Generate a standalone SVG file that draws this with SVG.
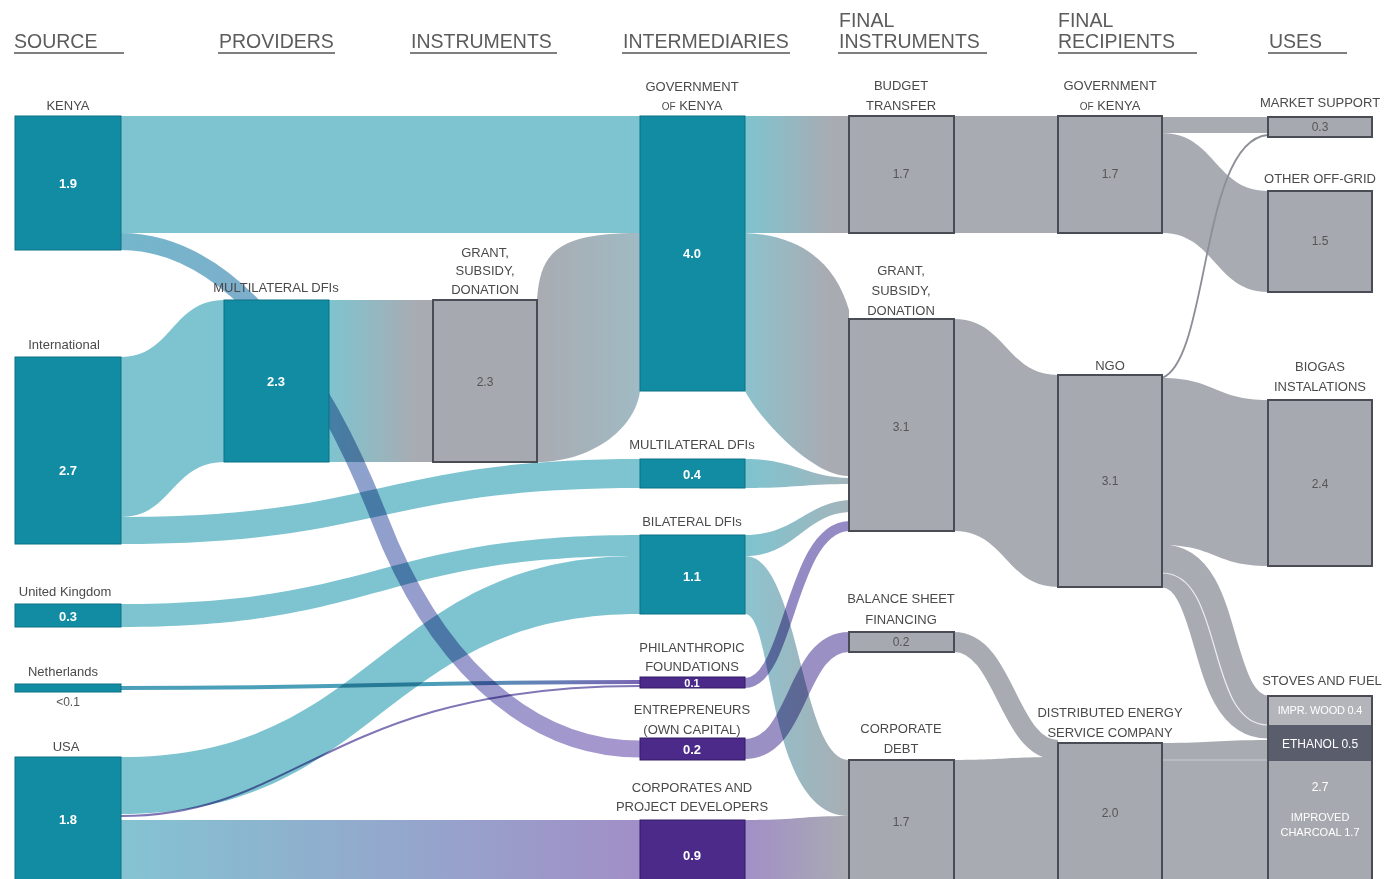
<svg xmlns="http://www.w3.org/2000/svg" width="1387" height="879" viewBox="0 0 1387 879">
<style>
text{font-family:"Liberation Sans",Arial,sans-serif}
.hdr{font-size:19.5px;fill:#5c5c5c}
.hl{stroke:#555;stroke-width:1.5}
.lbl{font-size:13px;fill:#4a4a4a;text-anchor:middle}
.vw{font-size:13px;fill:#fff;font-weight:bold;text-anchor:middle}
.vs{fill:#fff;text-anchor:middle}
.vg{font-size:12px;fill:#555;text-anchor:middle}
.teal{fill:#118ca3;stroke:#0c7185;stroke-width:1}
.purp{fill:#4b2a8a;stroke:#321a66;stroke-width:1}
.gray{fill:#a7a9b0;stroke:#4a4c55;stroke-width:2}
.ft{fill:#7ec4d0}
.fg{fill:#a9abb2}
.mul{mix-blend-mode:multiply}
</style>
<defs>
<linearGradient id="gGovBud" gradientUnits="userSpaceOnUse" x1="745" y1="0" x2="849" y2="0"><stop offset="0" stop-color="#7ec4d0"/><stop offset="0.85" stop-color="#a9abb2"/></linearGradient>
<linearGradient id="gMdfiGrant" gradientUnits="userSpaceOnUse" x1="329" y1="0" x2="433" y2="0"><stop offset="0" stop-color="#7ec4d0"/><stop offset="0.85" stop-color="#a9abb2"/></linearGradient>
<linearGradient id="gGrantGov" gradientUnits="userSpaceOnUse" x1="537" y1="0" x2="640" y2="0"><stop offset="0" stop-color="#a9abb2"/><stop offset="1" stop-color="#a0bac3"/></linearGradient>
<linearGradient id="gGovGrant" gradientUnits="userSpaceOnUse" x1="745" y1="0" x2="849" y2="0"><stop offset="0" stop-color="#8cc2cd"/><stop offset="0.8" stop-color="#a9abb2"/></linearGradient>
<linearGradient id="gTealGray" gradientUnits="userSpaceOnUse" x1="745" y1="0" x2="849" y2="0"><stop offset="0" stop-color="#7ec4d0"/><stop offset="1" stop-color="#a4b4bb"/></linearGradient>
<linearGradient id="gBilDebt" gradientUnits="userSpaceOnUse" x1="745" y1="0" x2="849" y2="0"><stop offset="0" stop-color="#8cc4d0"/><stop offset="1" stop-color="#a9adb3"/></linearGradient>
<linearGradient id="gUsaCorp" gradientUnits="userSpaceOnUse" x1="121" y1="0" x2="640" y2="0"><stop offset="0" stop-color="#84c3d2"/><stop offset="1" stop-color="#a18fc7"/></linearGradient>
<linearGradient id="gCorpDebt" gradientUnits="userSpaceOnUse" x1="745" y1="0" x2="849" y2="0"><stop offset="0" stop-color="#a18fc7"/><stop offset="1" stop-color="#a9abb2"/></linearGradient>
<linearGradient id="gKenEnt" gradientUnits="userSpaceOnUse" x1="121" y1="241" x2="640" y2="749"><stop offset="0" stop-color="#74b6cb"/><stop offset="0.5" stop-color="#8fa0cc"/><stop offset="1" stop-color="#a696ce"/></linearGradient>
<linearGradient id="gNeth" gradientUnits="userSpaceOnUse" x1="121" y1="0" x2="640" y2="0"><stop offset="0" stop-color="#4c9fb8"/><stop offset="0.6" stop-color="#4c9fb8"/><stop offset="1" stop-color="#7a66b4"/></linearGradient>
</defs>
<rect width="1387" height="879" fill="#fff"/>

<g id="headers">
<text class="hdr" x="14" y="48">SOURCE</text><line class="hl" x1="14" y1="53" x2="124" y2="53"/>
<text class="hdr" x="219" y="48">PROVIDERS</text><line class="hl" x1="218" y1="53" x2="335" y2="53"/>
<text class="hdr" x="411" y="48">INSTRUMENTS</text><line class="hl" x1="410" y1="53" x2="557" y2="53"/>
<text class="hdr" x="623" y="48">INTERMEDIARIES</text><line class="hl" x1="622" y1="53" x2="790" y2="53"/>
<text class="hdr" x="839" y="27">FINAL</text><text class="hdr" x="839" y="48">INSTRUMENTS</text><line class="hl" x1="838" y1="53" x2="987" y2="53"/>
<text class="hdr" x="1058" y="27">FINAL</text><text class="hdr" x="1058" y="48">RECIPIENTS</text><line class="hl" x1="1058" y1="53" x2="1197" y2="53"/>
<text class="hdr" x="1269" y="48">USES</text><line class="hl" x1="1268" y1="53" x2="1347" y2="53"/>
</g>

<g id="connectors">
<path class="ft" d="M121,116 H640 V233 H121 Z"/>
<path class="ft" d="M121,357 C172,357 172,300 224,300 L224,462 C172,462 172,517 121,517 Z"/>
<path class="ft" d="M121,517 C380,517 380,459 640,459 L640,488 C380,488 380,544 121,544 Z"/>
<path class="ft" d="M121,604 C380,604 380,535 640,535 L640,556 C380,556 380,627 121,627 Z"/>
<path class="ft" d="M121,757 C380,757 380,556 640,556 L640,614 C380,614 380,814 121,814 Z"/>
<path fill="url(#gUsaCorp)" d="M121,820 H640 V885 H121 Z"/>
<path fill="url(#gMdfiGrant)" d="M329,300 H433 V462 H329 Z"/>
<path fill="url(#gGrantGov)" d="M537,300 C540,250 560,233 640,233 L640,391 C635,430 590,462 537,462 Z"/>
<path fill="url(#gGovBud)" d="M745,116 H849 V233 H745 Z"/>
<path class="fg" d="M954,116 H1058 V233 H954 Z"/>
<path fill="url(#gGovGrant)" d="M745,233 C800,235 835,262 849,310 L849,476 C815,478 760,420 745,391 Z"/>
<path fill="url(#gTealGray)" d="M745,459 C795,459 805,477 849,478 L849,484 C805,484 795,488 745,488 Z"/>
<path fill="url(#gTealGray)" d="M745,535 C795,535 805,503 849,500 L849,512 C805,514 795,556 745,556 Z"/>
<path fill="url(#gBilDebt)" d="M745,556 C800,556 800,760 849,760 L849,816 C765,816 775,614 745,614 Z"/>
<path fill="url(#gCorpDebt)" d="M745,820 C800,820 800,816 849,816 L849,885 H745 Z"/>
<path class="fg" d="M954,319 C1006,319 1006,375 1058,375 L1058,587 C1006,587 1006,531 954,531 Z"/>
<path fill="none" stroke="#a9abb2" stroke-width="20" d="M954,642 C1005,642 1008,750 1058,750"/>
<path class="fg" d="M954,760 C1006,760 1006,757 1058,757 L1058,885 H954 Z"/>
<path class="fg" d="M1162,117 H1268 V133 H1162 Z"/>
<path class="fg" d="M1162,133 C1215,133 1215,191 1268,191 L1268,292 C1215,292 1215,233 1162,233 Z"/>
<path class="fg" d="M1162,378 C1215,378 1215,400 1268,400 L1268,566 C1215,566 1215,545 1162,545 Z"/>
<path fill="none" stroke="#a9abb2" stroke-width="43" d="M1162,566 C1225,566 1205,717 1268,717"/>
<path fill="none" stroke="#fff" stroke-opacity="0.8" stroke-width="1.2" d="M1162,573 C1225,573 1205,725 1268,725"/>
<path class="fg" d="M1162,743 C1215,743 1215,740 1268,740 L1268,885 H1162 Z"/>
<path fill="none" stroke="#c9cbd0" stroke-width="1" d="M1162,760 H1268"/>
<path fill="none" stroke="#8d8f96" stroke-width="1.8" d="M1162,378 C1210,360 1200,140 1268,135"/>
<path class="mul" fill="none" stroke="url(#gKenEnt)" stroke-width="17" d="M121,241.5 C240,241.5 330,390 380,520 S520,749 640,749"/>
<path class="mul" fill="none" stroke="url(#gNeth)" stroke-width="4" d="M121,688 C380,688 380,682 640,682"/>
<path class="mul" fill="none" stroke="#7f76b6" stroke-width="2" d="M121,816 C300,816 330,686 640,686"/>
<path class="mul" fill="none" stroke="#958bc4" stroke-width="10" d="M745,683 C790,683 790,528 849,526"/>
<path class="mul" fill="none" stroke="#9a90c4" stroke-width="20" d="M745,749 C800,749 795,642 849,642"/>
</g>

<g id="n-kenya"><rect class="teal" x="15" y="116" width="106" height="134"/><text class="lbl" x="68" y="110">KENYA</text><text class="vw" x="68" y="188">1.9</text></g>
<g id="n-international"><rect class="teal" x="15" y="357" width="106" height="187"/><text class="lbl" x="64" y="349">International</text><text class="vw" x="68" y="475">2.7</text></g>
<g id="n-uk"><rect class="teal" x="15" y="604" width="106" height="23"/><text class="lbl" x="65" y="596">United Kingdom</text><text class="vw" x="68" y="621">0.3</text></g>
<g id="n-netherlands"><rect class="teal" x="15" y="684" width="106" height="8"/><text class="lbl" x="63" y="676">Netherlands</text><text class="vg" x="68" y="706">&lt;0.1</text></g>
<g id="n-usa"><rect class="teal" x="15" y="757" width="106" height="128"/><text class="lbl" x="66" y="751">USA</text><text class="vw" x="68" y="824">1.8</text></g>

<g id="n-mdfi-prov"><rect class="teal" x="224" y="300" width="105" height="162"/><text class="lbl" x="276" y="292">MULTILATERAL DFIs</text><text class="vw" x="276" y="386">2.3</text></g>

<g id="n-grant-instr"><rect class="gray" x="433" y="300" width="104" height="162"/><text class="lbl" x="485" y="257">GRANT,</text><text class="lbl" x="485" y="275">SUBSIDY,</text><text class="lbl" x="485" y="294">DONATION</text><text class="vg" x="485" y="386">2.3</text></g>

<g id="n-gov-int"><rect class="teal" x="640" y="116" width="105" height="275"/><text class="lbl" x="692" y="91">GOVERNMENT</text><text class="lbl" x="692" y="110"><tspan style="font-size:10px">OF</tspan> KENYA</text><text class="vw" x="692" y="258">4.0</text></g>
<g id="n-mdfi-int"><rect class="teal" x="640" y="459" width="105" height="29"/><text class="lbl" x="692" y="449">MULTILATERAL DFIs</text><text class="vw" x="692" y="479">0.4</text></g>
<g id="n-bilateral"><rect class="teal" x="640" y="535" width="105" height="79"/><text class="lbl" x="692" y="526">BILATERAL DFIs</text><text class="vw" x="692" y="581">1.1</text></g>
<g id="n-philanthropic"><rect class="purp" x="640" y="677" width="105" height="11"/><text class="lbl" x="692" y="652">PHILANTHROPIC</text><text class="lbl" x="692" y="671">FOUNDATIONS</text><text class="vw" x="692" y="687" style="font-size:11px">0.1</text></g>
<g id="n-entrepreneurs"><rect class="purp" x="640" y="738" width="105" height="22"/><text class="lbl" x="692" y="714">ENTREPRENEURS</text><text class="lbl" x="692" y="734">(OWN CAPITAL)</text><text class="vw" x="692" y="754">0.2</text></g>
<g id="n-corporates"><rect class="purp" x="640" y="820" width="105" height="65"/><text class="lbl" x="692" y="792">CORPORATES AND</text><text class="lbl" x="692" y="811">PROJECT DEVELOPERS</text><text class="vw" x="692" y="860">0.9</text></g>

<g id="n-budget"><rect class="gray" x="849" y="116" width="105" height="117"/><text class="lbl" x="901" y="90">BUDGET</text><text class="lbl" x="901" y="110">TRANSFER</text><text class="vg" x="901" y="178">1.7</text></g>
<g id="n-grant-final"><rect class="gray" x="849" y="319" width="105" height="212"/><text class="lbl" x="901" y="275">GRANT,</text><text class="lbl" x="901" y="295">SUBSIDY,</text><text class="lbl" x="901" y="315">DONATION</text><text class="vg" x="901" y="431">3.1</text></g>
<g id="n-balance"><rect class="gray" x="849" y="632" width="105" height="20"/><text class="lbl" x="901" y="603">BALANCE SHEET</text><text class="lbl" x="901" y="624">FINANCING</text><text class="vg" x="901" y="646">0.2</text></g>
<g id="n-corpdebt"><rect class="gray" x="849" y="760" width="105" height="125"/><text class="lbl" x="901" y="733">CORPORATE</text><text class="lbl" x="901" y="753">DEBT</text><text class="vg" x="901" y="826">1.7</text></g>

<g id="n-gov-rec"><rect class="gray" x="1058" y="116" width="104" height="117"/><text class="lbl" x="1110" y="90">GOVERNMENT</text><text class="lbl" x="1110" y="110"><tspan style="font-size:10px">OF</tspan> KENYA</text><text class="vg" x="1110" y="178">1.7</text></g>
<g id="n-ngo"><rect class="gray" x="1058" y="375" width="104" height="212"/><text class="lbl" x="1110" y="370">NGO</text><text class="vg" x="1110" y="485">3.1</text></g>
<g id="n-desco"><rect class="gray" x="1058" y="743" width="104" height="142"/><text class="lbl" x="1110" y="717">DISTRIBUTED ENERGY</text><text class="lbl" x="1110" y="737">SERVICE COMPANY</text><text class="vg" x="1110" y="817">2.0</text></g>

<g id="n-market"><rect class="gray" x="1268" y="117" width="104" height="20"/><text class="lbl" x="1320" y="107">MARKET SUPPORT</text><text class="vg" x="1320" y="131">0.3</text></g>
<g id="n-other"><rect class="gray" x="1268" y="191" width="104" height="101"/><text class="lbl" x="1320" y="183">OTHER OFF-GRID</text><text class="vg" x="1320" y="245">1.5</text></g>
<g id="n-biogas"><rect class="gray" x="1268" y="400" width="104" height="166"/><text class="lbl" x="1320" y="371">BIOGAS</text><text class="lbl" x="1320" y="391">INSTALATIONS</text><text class="vg" x="1320" y="488">2.4</text></g>
<g id="n-stoves">
<rect x="1268" y="696" width="104" height="29" fill="#b3b5bb"/>
<rect x="1268" y="725" width="104" height="36" fill="#5a5e6c"/>
<rect x="1268" y="761" width="104" height="124" fill="#a7a9b0"/>
<rect x="1268" y="696" width="104" height="189" fill="none" stroke="#4a4c55" stroke-width="2"/>
<text class="lbl" x="1322" y="685">STOVES AND FUEL</text>
<text class="vs" x="1320" y="714" style="font-size:11px;letter-spacing:-0.2px">IMPR. WOOD 0.4</text>
<text class="vs" x="1320" y="748" style="font-size:12px">ETHANOL 0.5</text>
<text class="vs" x="1320" y="791" style="font-size:12px">2.7</text>
<text class="vs" x="1320" y="821" style="font-size:11px">IMPROVED</text>
<text class="vs" x="1320" y="836" style="font-size:11px">CHARCOAL 1.7</text>
</g>
</svg>
